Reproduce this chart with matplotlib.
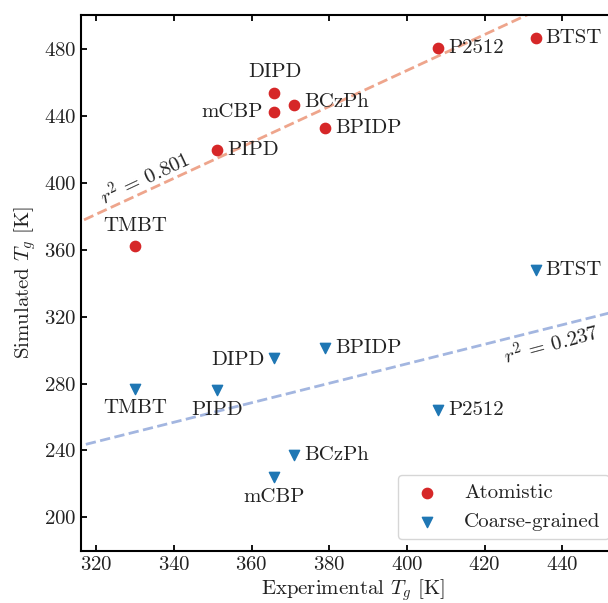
"""Simulated vs experimental Tg, atomistic and coarse-grained"""
import matplotlib
matplotlib.use("Agg")
import matplotlib.pyplot as plt
import numpy as np

plt.rcParams["font.family"] = "serif"
plt.rcParams["font.serif"] = ["cmr10"]
plt.rcParams["mathtext.fontset"] = "cm"
plt.rcParams["axes.formatter.use_mathtext"] = True
plt.rcParams["font.size"] = 15

# molecules and their experimental Tg [K]
names = ["TMBT", "PIPD", "mCBP", "DIPD", "BCzPh", "BPIDP", "P2512", "BTST"]
tg_exp = [330.0, 351.1, 365.9, 365.9, 371.0, 378.9, 408.0, 433.1]

# simulated Tg [K]
tg_atom = [362.3, 419.6, 442.5, 453.5, 446.7, 432.7, 480.8, 486.8]
tg_cg = [276.9, 276.3, 224.0, 295.4, 237.0, 301.2, 264.3, 348.1]

# trend lines (slope, intercept)
fit_atom = [1.075, 37.2]
fit_cg = [0.583, 58.6]

# where each label sits relative to its marker (offset in pixels, ha, va)
offs_atom = {
    "TMBT": ((0, 20), "center", "center"),
    "PIPD": ((10, 0), "left", "center"),
    "mCBP": ((-12, 0), "right", "center"),
    "DIPD": ((0, 21), "center", "center"),
    "BCzPh": ((10, 3), "left", "center"),
    "BPIDP": ((10, 0), "left", "center"),
    "P2512": ((10, 0), "left", "center"),
    "BTST": ((10, 0), "left", "center"),
}
offs_cg = {
    "TMBT": ((0, -19), "center", "center"),
    "PIPD": ((0, -20), "center", "center"),
    "mCBP": ((0, -20), "center", "center"),
    "DIPD": ((-10, -2), "right", "center"),
    "BCzPh": ((10, 0), "left", "center"),
    "BPIDP": ((10, 0), "left", "center"),
    "P2512": ((10, 0), "left", "center"),
    "BTST": ((10, 0), "left", "center"),
}

red = "#d62728"
blue = "#1f77b4"
txt = "#222222"

fig = plt.figure(figsize=(6.08, 6.03), dpi=100)
ax = fig.add_axes([0.1332, 0.0867, 0.894, 0.8885])

xs = np.array([310, 470])
ax.plot(xs, fit_atom[0] * xs + fit_atom[1], ls="--", lw=2, color="#eea58c", zorder=1)
ax.plot(xs, fit_cg[0] * xs + fit_cg[1], ls="--", lw=2, color="#a3b6e0", zorder=1)

ax.scatter(tg_exp, tg_atom, s=55, marker="o", color=red, label="Atomistic", zorder=3)
ax.scatter(tg_exp, tg_cg, s=55, marker="v", color=blue, label="Coarse-grained", zorder=3)

for n, x, y in zip(names, tg_exp, tg_atom):
    off, ha, va = offs_atom[n]
    ax.annotate(n, (x, y), xytext=off, textcoords="offset pixels", ha=ha, va=va, color=txt)
for n, x, y in zip(names, tg_exp, tg_cg):
    off, ha, va = offs_cg[n]
    ax.annotate(n, (x, y), xytext=off, textcoords="offset pixels", ha=ha, va=va, color=txt)

ax.text(332.6, 402.7, r"$r^2\,=\,0.801$", rotation=25, ha="center", va="center", color=txt)
ax.text(437.2, 303.4, r"$r^2\,=\,0.237$", rotation=15, ha="center", va="center", color=txt)

ax.set_xlim(316.1, 456)
ax.set_ylim(180, 500.4)
ax.set_xticks([320, 340, 360, 380, 400, 420, 440])
ax.set_yticks([200, 240, 280, 320, 360, 400, 440, 480])
ax.set_xlabel(r"Experimental $T_g$ [K]", color=txt, labelpad=2.5)
ax.set_ylabel(r"Simulated $T_g$ [K]", color=txt)

for s in ax.spines.values():
    s.set_linewidth(1.5)
ax.spines["right"].set_visible(False)
ax.tick_params(direction="in", length=4, width=1.3, top=True, labelcolor=txt, labelsize=15)

ax.legend(loc="upper left", bbox_to_anchor=(0.654, 0.212), bbox_transform=fig.transFigure,
          borderaxespad=0, fontsize=15, labelcolor=txt)

fig.savefig("out.png", dpi=100)
